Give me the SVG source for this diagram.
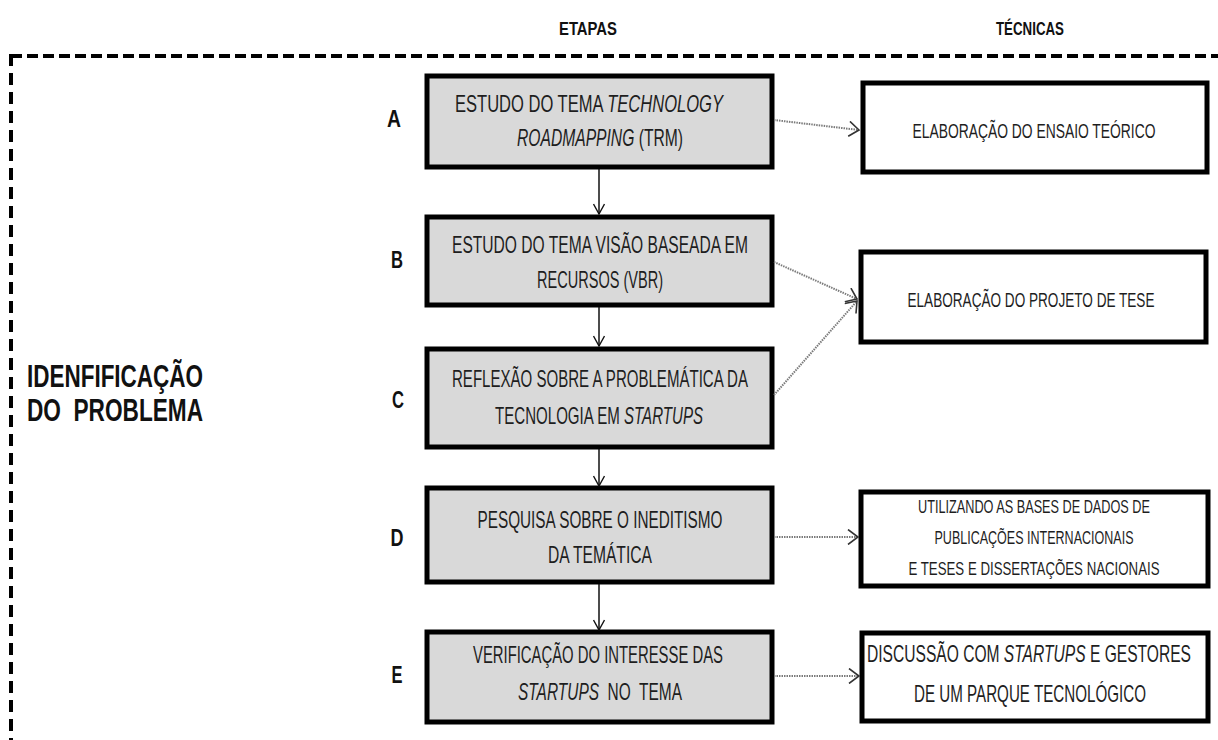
<svg xmlns="http://www.w3.org/2000/svg" width="1218" height="740" viewBox="0 0 1218 740">
<defs>
<style>
text{font-family:"Liberation Sans Narrow","Liberation Sans",Arial,sans-serif;fill:#1e1e1e;}
.hd{font-weight:bold;font-size:13px;fill:#111;}
.lt{font-weight:bold;font-size:17px;fill:#111;}
.tt{font-weight:bold;font-size:22px;fill:#111;}
.st{font-size:15px;}
.tc{font-size:14px;}
.tc3{font-size:13px;}
.tc4{font-size:15px;}
.i{font-style:italic;}
.step{fill:#d9d9d9;stroke:#000;stroke-width:5;}
.tech{fill:#fff;stroke:#000;stroke-width:5;}
.down{stroke:#111;stroke-width:1.5;fill:none;}
.side{stroke:#7a7a7a;stroke-width:2;stroke-dasharray:1.5 1;fill:none;}
.frame{stroke:#000;stroke-width:4;fill:none;}
</style>
<marker id="vh" viewBox="0 0 12 12" refX="11" refY="6" markerWidth="12" markerHeight="12" markerUnits="userSpaceOnUse" orient="auto">
<path d="M1,0.5 L11,6 L1,11.5" fill="none" stroke="#111" stroke-width="1.4"/>
</marker>
<marker id="sh" viewBox="0 0 12 16" refX="11" refY="8" markerWidth="12" markerHeight="16" markerUnits="userSpaceOnUse" orient="auto">
<path d="M1,0.5 L11,8 L1,15.5" fill="none" stroke="#333" stroke-width="1.6"/>
</marker>
</defs>

<g id="frame">
<line class="frame" x1="11" y1="56" x2="1218" y2="56" stroke-dasharray="11 5"/>
<line class="frame" x1="11" y1="54" x2="11" y2="740" stroke-dasharray="12 7"/>
</g>

<g id="headers">
<text class="hd" x="588" y="35" text-anchor="middle" textLength="58" lengthAdjust="spacingAndGlyphs" transform="matrix(1 0 0 1.3846 0 -13.46)">ETAPAS</text>
<text class="hd" x="1030" y="35" text-anchor="middle" textLength="68" lengthAdjust="spacingAndGlyphs" transform="matrix(1 0 0 1.3846 0 -13.46)">TÉCNICAS</text>
</g>

<g id="title">
<text class="tt" x="27" y="387" textLength="176" lengthAdjust="spacingAndGlyphs" transform="matrix(1 0 0 1.409 0 -158.28)">IDENFIFICAÇÃO</text>
<text class="tt" x="27" y="421" textLength="176" lengthAdjust="spacingAndGlyphs" xml:space="preserve" transform="matrix(1 0 0 1.409 0 -172.19)">DO  PROBLEMA</text>
</g>

<g id="letters">
<text class="lt" x="394" y="127" text-anchor="middle" textLength="14" lengthAdjust="spacingAndGlyphs" transform="matrix(1 0 0 1.353 0 -44.83)">A</text>
<text class="lt" x="397" y="268" text-anchor="middle" textLength="12" lengthAdjust="spacingAndGlyphs" transform="matrix(1 0 0 1.353 0 -94.60)">B</text>
<text class="lt" x="398" y="408" text-anchor="middle" textLength="12" lengthAdjust="spacingAndGlyphs" transform="matrix(1 0 0 1.353 0 -144.02)">C</text>
<text class="lt" x="397" y="546" text-anchor="middle" textLength="13" lengthAdjust="spacingAndGlyphs" transform="matrix(1 0 0 1.353 0 -192.74)">D</text>
<text class="lt" x="397" y="683" text-anchor="middle" textLength="11" lengthAdjust="spacingAndGlyphs" transform="matrix(1 0 0 1.353 0 -241.10)">E</text>
</g>

<g id="stepA">
<rect class="step" x="427" y="76" width="345" height="91"/>
<text class="st" x="589" y="112" text-anchor="middle" textLength="268" lengthAdjust="spacingAndGlyphs" transform="matrix(1 0 0 1.5333 0 -59.73)">ESTUDO DO TEMA <tspan class="i">TECHNOLOGY</tspan></text>
<text class="st" x="600" y="146" text-anchor="middle" textLength="166" lengthAdjust="spacingAndGlyphs" transform="matrix(1 0 0 1.5333 0 -77.87)"><tspan class="i">ROADMAPPING</tspan> (TRM)</text>
</g>

<g id="stepB">
<rect class="step" x="427" y="217" width="345" height="88"/>
<text class="st" x="600" y="253" text-anchor="middle" textLength="296" lengthAdjust="spacingAndGlyphs" transform="matrix(1 0 0 1.5333 0 -134.93)">ESTUDO DO TEMA VISÃO BASEADA EM</text>
<text class="st" x="600" y="288" text-anchor="middle" textLength="126" lengthAdjust="spacingAndGlyphs" transform="matrix(1 0 0 1.5333 0 -153.6)">RECURSOS (VBR)</text>
</g>

<g id="stepC">
<rect class="step" x="427" y="349" width="345" height="98"/>
<text class="st" x="600" y="387" text-anchor="middle" textLength="296" lengthAdjust="spacingAndGlyphs" transform="matrix(1 0 0 1.5333 0 -206.4)">REFLEXÃO SOBRE A PROBLEMÁTICA DA</text>
<text class="st" x="599" y="424" text-anchor="middle" textLength="208" lengthAdjust="spacingAndGlyphs" transform="matrix(1 0 0 1.5333 0 -226.13)">TECNOLOGIA EM <tspan class="i">STARTUPS</tspan></text>
</g>

<g id="stepD">
<rect class="step" x="427" y="488" width="345" height="94"/>
<text class="st" x="600" y="528" text-anchor="middle" textLength="245" lengthAdjust="spacingAndGlyphs" transform="matrix(1 0 0 1.5333 0 -281.6)">PESQUISA SOBRE O INEDITISMO</text>
<text class="st" x="600" y="563" text-anchor="middle" textLength="104" lengthAdjust="spacingAndGlyphs" transform="matrix(1 0 0 1.5333 0 -300.27)">DA TEMÁTICA</text>
</g>

<g id="stepE">
<rect class="step" x="427" y="632" width="345" height="90"/>
<text class="st" x="598" y="663" text-anchor="middle" textLength="250" lengthAdjust="spacingAndGlyphs" transform="matrix(1 0 0 1.5333 0 -353.6)">VERIFICAÇÃO DO INTERESSE DAS</text>
<text class="st" x="600" y="700" text-anchor="middle" textLength="164" lengthAdjust="spacingAndGlyphs" xml:space="preserve" transform="matrix(1 0 0 1.5333 0 -373.33)"><tspan class="i">STARTUPS</tspan>  NO  TEMA</text>
</g>

<g id="tech1">
<rect class="tech" x="863" y="83" width="344" height="89"/>
<text class="tc" x="1034" y="138" text-anchor="middle" textLength="243" lengthAdjust="spacingAndGlyphs" transform="matrix(1 0 0 1.5 0 -69)">ELABORAÇÃO DO ENSAIO TEÓRICO</text>
</g>

<g id="tech2">
<rect class="tech" x="861" y="252" width="345" height="90"/>
<text class="tc" x="1031" y="307" text-anchor="middle" textLength="247" lengthAdjust="spacingAndGlyphs" transform="matrix(1 0 0 1.5 0 -153.5)">ELABORAÇÃO DO PROJETO DE TESE</text>
</g>

<g id="tech3">
<rect class="tech" x="861" y="492" width="347" height="94"/>
<text class="tc3" x="1034" y="513" text-anchor="middle" textLength="232" lengthAdjust="spacingAndGlyphs" transform="matrix(1 0 0 1.4615 0 -236.75)">UTILIZANDO AS BASES DE DADOS DE</text>
<text class="tc3" x="1034" y="544" text-anchor="middle" textLength="199" lengthAdjust="spacingAndGlyphs" transform="matrix(1 0 0 1.4615 0 -251.06)">PUBLICAÇÕES INTERNACIONAIS</text>
<text class="tc3" x="1034" y="575" text-anchor="middle" textLength="251" lengthAdjust="spacingAndGlyphs" transform="matrix(1 0 0 1.4615 0 -265.36)">E TESES E DISSERTAÇÕES NACIONAIS</text>
</g>

<g id="tech4">
<rect class="tech" x="862" y="633" width="346" height="88"/>
<text class="tc4" x="1029" y="662" text-anchor="middle" textLength="324" lengthAdjust="spacingAndGlyphs" transform="matrix(1 0 0 1.5333 0 -353.07)">DISCUSSÃO COM <tspan class="i">STARTUPS</tspan> E GESTORES</text>
<text class="tc4" x="1030" y="702" text-anchor="middle" textLength="232" lengthAdjust="spacingAndGlyphs" transform="matrix(1 0 0 1.5333 0 -374.4)">DE UM PARQUE TECNOLÓGICO</text>
</g>

<g id="connectors">
<line class="down" x1="599" y1="169" x2="599" y2="214" marker-end="url(#vh)"/>
<line class="down" x1="599" y1="307" x2="599" y2="346" marker-end="url(#vh)"/>
<line class="down" x1="599" y1="449" x2="599" y2="486" marker-end="url(#vh)"/>
<line class="down" x1="599" y1="584" x2="599" y2="630" marker-end="url(#vh)"/>
<line class="side" x1="774" y1="120" x2="859" y2="130" marker-end="url(#sh)"/>
<line class="side" x1="774" y1="262" x2="857" y2="299" marker-end="url(#sh)"/>
<line class="side" x1="774" y1="395" x2="857" y2="301" marker-end="url(#sh)"/>
<line class="side" x1="774" y1="537" x2="858" y2="537" marker-end="url(#sh)"/>
<line class="side" x1="774" y1="676" x2="859" y2="676" marker-end="url(#sh)"/>
</g>
</svg>
